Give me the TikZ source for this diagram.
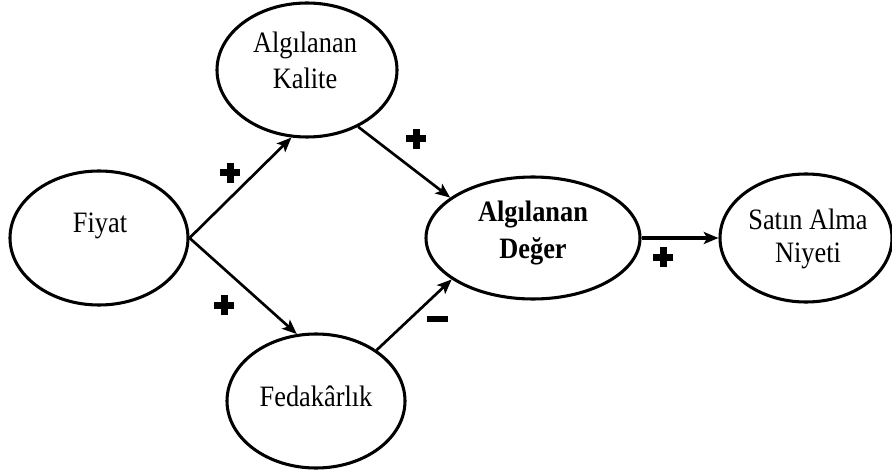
\documentclass[tikz,border=0pt]{standalone}
\usepackage{fontspec}
\setmainfont{Liberation Serif}[FakeStretch=0.89]
\usetikzlibrary{arrows.meta,shapes.geometric}
\begin{document}
\begin{tikzpicture}[x=0.75pt,y=-0.75pt,
  oval/.style={ellipse, draw, line width=2.3pt, inner sep=0pt},
  lbl/.style={anchor=base, inner sep=0pt, font=\fontsize{22.2pt}{26pt}\selectfont},
  blbl/.style={lbl, font=\fontsize{22.2pt}{26pt}\selectfont\bfseries},
  link/.style={line width=2pt, -{Stealth[length=11pt,width=9pt,inset=2.5pt]}},
  thicklink/.style={link, line width=2.6pt},
  plussign/.pic={\fill (-10,-3.5) rectangle (10,3.5); \fill (-3.5,-10) rectangle (3.5,10);},
  minussign/.pic={\fill (-10.5,-3) rectangle (10.5,3);}
]
\useasboundingbox (0,0) rectangle (892,474);

% constructs
\node[oval, minimum width=133.5pt, minimum height=100.5pt] (fiy) at (99,238) {};
\node[oval, minimum width=135pt, minimum height=100.5pt] (kal) at (307,70) {};
\node[oval, minimum width=133.5pt, minimum height=100.5pt] (fed) at (316,401) {};
\node[oval, minimum width=160.5pt, minimum height=91.5pt] (deg) at (533,238) {};
\node[oval, minimum width=129pt, minimum height=96pt] (sat) at (806,238) {};

% labels
\node[lbl] (fiyT) at (100,232) {Fiyat};
\node[lbl] (kalT1) at (305,53) {Algılanan};
\node[lbl] (kalT2) at (305,89) {Kalite};
\node[lbl] (fedT) at (316,406) {Fedakârlık};
\node[blbl] (degT1) at (533,221) {Algılanan};
\node[blbl] (degT2) at (533,258) {Değer};
\node[lbl] (satT1) at (808,229) {Satın Alma};
\node[lbl] (satT2) at (808,262) {Niyeti};

% paths
\draw[link] (fiy.east) -- (kal.257);
\draw[link] (fiy.east) -- (fed.106);
\draw[link] (kal.312) -- (deg.154);
\draw[link] (fed.40) -- (deg.207);
\draw[thicklink] (deg.east) -- (sat.west);

% signs
\pic at (230,173) {plussign};
\pic at (224,305) {plussign};
\pic at (416,139) {plussign};
\pic at (663,257) {plussign};
\pic at (437,319) {minussign};
\end{tikzpicture}
\end{document}
